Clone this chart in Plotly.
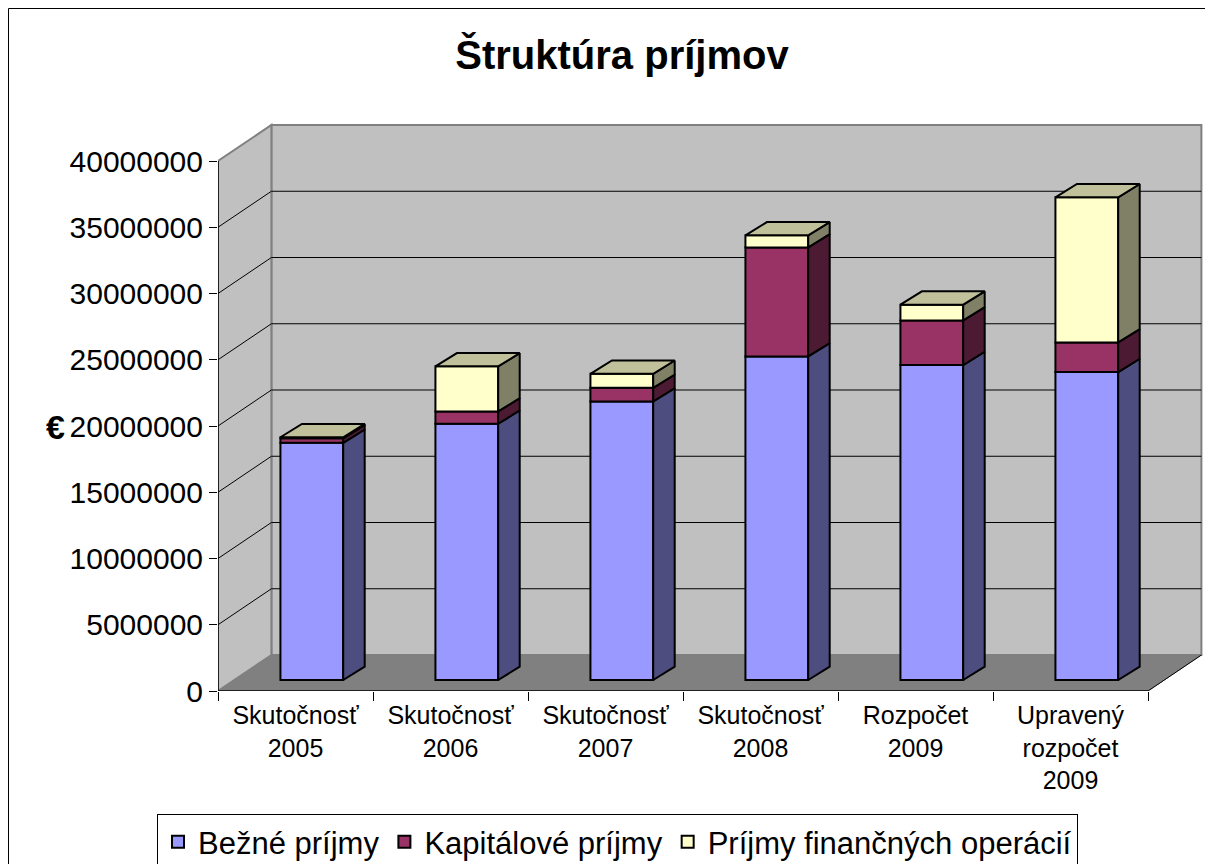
import plotly.graph_objects as go

# ---------------- data ----------------
categories = ["Skutočnosť<br>2005", "Skutočnosť<br>2006", "Skutočnosť<br>2007",
              "Skutočnosť<br>2008", "Rozpočet<br>2009", "Upravený<br>rozpočet<br>2009"]
bezne_prijmy = [17900000, 19340000, 21020000, 24420000, 23770000, 23240000]
kapitalove_prijmy = [340000, 930000, 1030000, 8230000, 3370000, 2240000]
financne_operacie = [80000, 3400000, 1060000, 910000, 1190000, 10950000]
series_names = ["Bežné príjmy", "Kapitálové príjmy", "Príjmy finančných operácií"]
y_ticks = [0, 5000000, 10000000, 15000000, 20000000, 25000000, 30000000, 35000000, 40000000]

# ---------------- layout constants (figure px; page has 8px body margin) ----------------
W, H = 1205, 856
ML, MR, MT, MB = 210, 9, 112, 173
PW = W - ML - MR
PH = H - MT - MB
BOTTOM = H - MB
PX_PER_CAT = 155.0
PX_PER_EUR = 13.25 / 1e6
X_MAX = PW / PX_PER_CAT
Y_MAX = PH / PX_PER_EUR

WALL_DX = 53.4 / PX_PER_CAT
WALL_DY = 36.0 / PX_PER_EUR
BAR_D0 = 11.0 / 36.0
BAR_SHIFT_X = BAR_D0 * WALL_DX
BAR_SHIFT_Y = BAR_D0 * WALL_DY
BAR_W = 0.405
BAR_DX = 21.5 / PX_PER_CAT
BAR_DY = 13.3 / PX_PER_EUR

FONT = "Arial, Liberation Sans, sans-serif"
front_colors = ["#9999FF", "#993366", "#FFFFCC"]
side_colors = ["#4D4D80", "#4D1A33", "#808066"]
top_color = "#C0C09A"

n = len(categories)
y_top = y_ticks[-1]
fig = go.Figure()


def path(pts, close=True):
    s = "M " + " L ".join(f"{x},{y}" for x, y in pts)
    return s + (" Z" if close else "")


shapes = []
# back wall
shapes.append(dict(type="path", xref="x", yref="y", layer="below",
                   path=path([(WALL_DX, WALL_DY), (n + WALL_DX, WALL_DY),
                              (n + WALL_DX, y_top + WALL_DY), (WALL_DX, y_top + WALL_DY)]),
                   fillcolor="#C0C0C0", line=dict(color="#808080", width=2)))
# left wall
shapes.append(dict(type="path", xref="x", yref="y", layer="below",
                   path=path([(0, 0), (WALL_DX, WALL_DY), (WALL_DX, y_top + WALL_DY), (0, y_top)]),
                   fillcolor="#C0C0C0", line=dict(color="#808080", width=2)))
# floor
shapes.append(dict(type="path", xref="x", yref="y", layer="below",
                   path=path([(0, 0), (n, 0), (n + WALL_DX, WALL_DY), (WALL_DX, WALL_DY)]),
                   fillcolor="#808080", line=dict(color="#808080", width=1)))
# gridlines on walls
for v in y_ticks[1:-1]:
    shapes.append(dict(type="path", xref="x", yref="y", layer="below",
                       path=path([(0, v), (WALL_DX, v + WALL_DY), (n + WALL_DX, v + WALL_DY)], close=False),
                       line=dict(color="black", width=1)))
# floor right edge and front axes
shapes.append(dict(type="path", xref="x", yref="y", layer="below",
                   path=path([(n, 0), (n + WALL_DX, WALL_DY)], close=False),
                   line=dict(color="black", width=1)))
shapes.append(dict(type="path", xref="x", yref="y", layer="below",
                   path=path([(0, y_top), (0, 0), (n, 0)], close=False),
                   line=dict(color="black", width=1.5)))
# chart border
shapes.append(dict(type="rect", xref="paper", yref="paper",
                   x0=(0.5 - ML) / PW, x1=(1198 - ML) / PW,
                   y0=(BOTTOM - 880) / PH, y1=(BOTTOM - 0.5) / PH,
                   line=dict(color="black", width=1), fillcolor="rgba(0,0,0,0)", layer="below"))


def poly(xs, ys, fill):
    return go.Scatter(x=xs, y=ys, mode="lines", fill="toself", fillcolor=fill,
                      line=dict(color="black", width=2),
                      hoverinfo="skip", showlegend=False)


series = [bezne_prijmy, kapitalove_prijmy, financne_operacie]
bases = []
cum = [BAR_SHIFT_Y] * n
for s in series:
    bases.append(list(cum))
    cum = [c + v for c, v in zip(cum, s)]

xc = [i + 0.5 + BAR_SHIFT_X for i in range(n)]

# front faces (bars)
for k, s in enumerate(series):
    fig.add_trace(go.Bar(x=xc, y=s, base=bases[k], width=BAR_W, name=series_names[k],
                         marker=dict(color=front_colors[k], line=dict(color="black", width=2)),
                         hovertemplate="%{y}<extra>" + series_names[k] + "</extra>"))

# side faces
for k, s in enumerate(series):
    sx, sy = [], []
    for i in range(n):
        xr = xc[i] + BAR_W / 2
        b = bases[k][i]
        t = b + s[i]
        sx += [xr, xr + BAR_DX, xr + BAR_DX, xr, xr, None]
        sy += [b, b + BAR_DY, t + BAR_DY, t, b, None]
    fig.add_trace(poly(sx, sy, side_colors[k]))

# top faces
tx, ty = [], []
for i in range(n):
    xl = xc[i] - BAR_W / 2
    xr = xc[i] + BAR_W / 2
    t = cum[i]
    tx += [xl, xr, xr + BAR_DX, xl + BAR_DX, xl, None]
    ty += [t, t, t + BAR_DY, t + BAR_DY, t, None]
fig.add_trace(poly(tx, ty, top_color))

fig.update_layout(
    width=W, height=H, barmode="overlay",
    margin=dict(l=ML, r=MR, t=MT, b=MB, autoexpand=False),
    paper_bgcolor="white", plot_bgcolor="white",
    font=dict(family=FONT, color="black"),
    title=dict(text="<b>Štruktúra príjmov</b>", x=614 / W, xref="container",
               y=1 - 47 / H, yref="container", xanchor="center", yanchor="middle",
               font=dict(size=40, family=FONT, color="black")),
    xaxis=dict(range=[0, X_MAX], tickvals=[i + 0.5 for i in range(n)], ticktext=categories,
               ticks="", showgrid=False, zeroline=False, showline=False,
               tickfont=dict(size=25, family=FONT), ticklabelstandoff=7,
               minor=dict(tickvals=list(range(n + 1)), ticks="outside", ticklen=9,
                          tickcolor="black", tickwidth=1, showgrid=False)),
    yaxis=dict(range=[0, Y_MAX], tickvals=y_ticks, ticktext=[str(v) for v in y_ticks],
               ticks="outside", ticklen=8, tickcolor="black", tickwidth=1,
               showgrid=False, zeroline=False, showline=False,
               tickfont=dict(size=30, family=FONT)),
    legend=dict(orientation="h", x=(609.5 - ML) / PW, xanchor="center",
                y=-(806 - BOTTOM) / PH, yanchor="top",
                bordercolor="black", borderwidth=1, bgcolor="white",
                font=dict(size=31, family=FONT), traceorder="normal"),
    showlegend=True,
    annotations=[dict(text="<b>€</b>", xref="paper", yref="paper",
                      x=(47 - ML) / PW, y=(BOTTOM - 419) / PH, showarrow=False,
                      xanchor="center", yanchor="middle",
                      font=dict(size=34, family=FONT, color="black"))],
    shapes=shapes,
)

fig.write_html("out.html")
